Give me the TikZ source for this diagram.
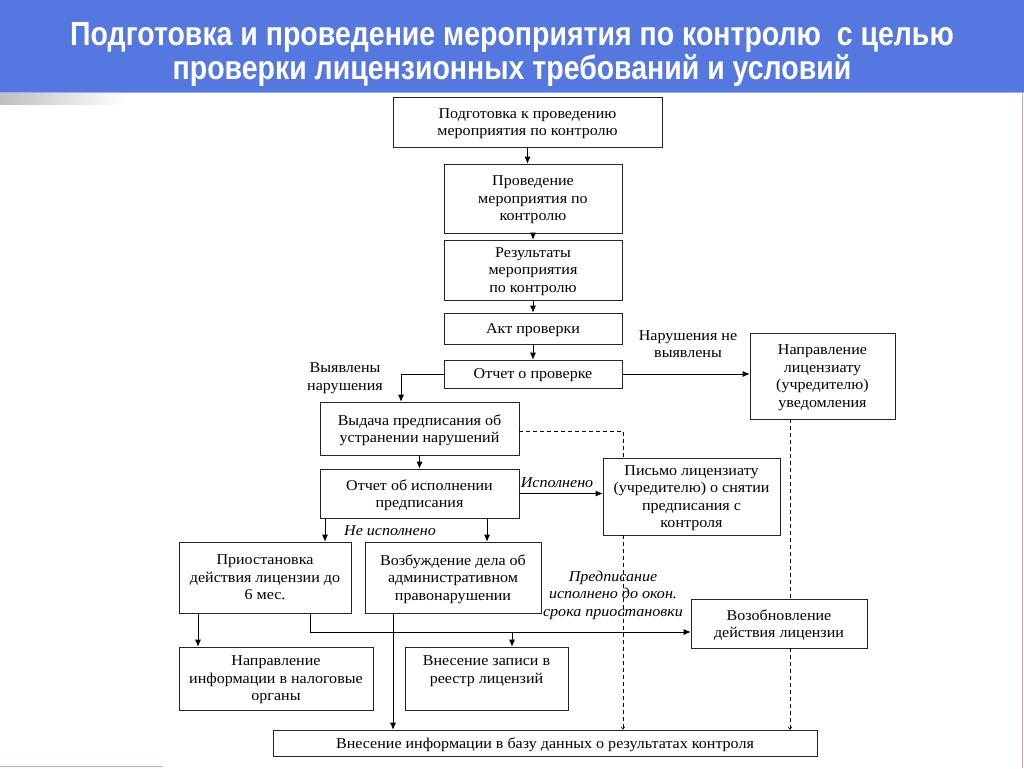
\documentclass[tikz,border=0pt]{standalone}
\usepackage{fontspec}
\setmainfont[FakeStretch=1.07]{Liberation Serif}
\newfontfamily\titlefont[FakeStretch=0.85]{Liberation Sans}
\usetikzlibrary{arrows.meta}
\definecolor{slideblue}{RGB}{84,120,224}
\definecolor{edgepink}{RGB}{214,170,178}
\begin{document}
\begin{tikzpicture}[x=1pt,y=-1pt,
  box/.style={draw=black!85,line width=0.7pt,inner sep=1pt,align=center,text depth=0pt,
    font=\fontsize{15}{17.5}\selectfont},
  lbl/.style={inner sep=0pt,align=center,font=\fontsize{15}{17.5}\selectfont},
  ilbl/.style={lbl,font=\fontsize{15}{17.5}\selectfont\itshape},
  arr/.style={-{Latex[length=7pt,width=6pt]},line width=0.7pt},
  darr/.style={-{To[length=3pt,width=4pt]},line width=0.6pt,dash pattern=on 4pt off 3pt}]
\useasboundingbox (0,0) rectangle (1024,768);
\fill[white] (0,0) rectangle (1024,768);
% slide header
\fill[slideblue] (0,0) rectangle (1024,92);
\draw[slideblue!60,line width=1pt] (0,92) -- (1024,92);
\shade[left color=black!25,right color=white] (0,93) rectangle (125,104);
\draw[edgepink,line width=0.8pt] (1022,93) -- (1022,768);
\draw[edgepink,line width=0.8pt] (0,766) -- (163,766);
\node[white,align=center,font=\titlefont\fontsize{33.5}{34}\selectfont\bfseries] (title) at (512,54)
  {Подготовка и проведение мероприятия по контролю\ \ с целью\\проверки лицензионных требований и условий};
% boxes
\node[box,minimum width=269,minimum height=50] (prep) at (527.5,122) {Подготовка к проведению\\мероприятия по контролю};
\node[box,minimum width=178,minimum height=69] (cond) at (533,198.5) {Проведение\\мероприятия по\\контролю};
\node[box,minimum width=178,minimum height=60] (res) at (533,270) {Результаты\\мероприятия\\по контролю};
\node[box,minimum width=178,minimum height=31] (act) at (533,328.5) {Акт проверки};
\node[box,minimum width=178,minimum height=28] (rep) at (533,374) {Отчет о проверке};
\node[box,minimum width=145,minimum height=86] (note) at (822.5,376) {Направление\\лицензиату\\(учредителю)\\уведомления};
\node[box,minimum width=199,minimum height=53] (order) at (419.5,428.5) {Выдача предписания об\\устранении нарушений};
\node[box,minimum width=199,minimum height=49] (done) at (419.5,493.5) {Отчет об исполнении\\предписания};
\node[box,minimum width=177,minimum height=77] (letter) at (691.5,496.5) {Письмо лицензиату\\(учредителю) о снятии\\предписания с\\контроля};
\node[box,minimum width=172,minimum height=71] (susp) at (265,577.5) {Приостановка\\действия лицензии до\\6 мес.};
\node[box,minimum width=176,minimum height=71] (case) at (453,577.5) {Возбуждение дела об\\административном\\правонарушении};
\node[box,minimum width=176,minimum height=49] (renew) at (779,623.5) {Возобновление\\действия лицензии};
\node[box,minimum width=194,minimum height=63] (tax) at (276,678.5) {Направление\\информации в налоговые\\органы};
\node[box,minimum width=163,minimum height=63] (reg) at (486.5,678.5) {Внесение записи в\\реестр лицензий\\\mbox{}};
\node[box,minimum width=544,minimum height=26] (db) at (545,743) {Внесение информации в базу данных о результатах контроля};
% labels
\node[lbl] (found) at (345,378) {Выявлены\\нарушения};
\node[lbl] (notfound) at (688,344) {Нарушения не\\выявлены};
\node[ilbl] (yes) at (557,483) {Исполнено};
\node[ilbl] (no) at (390,531) {Не исполнено};
\node[ilbl] (early) at (613,595) {Предписание\\исполнено до окон.\\срока приостановки};
% connectors
\coordinate (dl) at (623,431);
\coordinate (dr) at (790,419);
\coordinate (fork) at (512,632);
\draw[arr] (prep.south) -- (prep.south |- cond.north);
\draw[arr] (cond) -- (res);
\draw[arr] (res) -- (act);
\draw[arr] (act) -- (rep);
\draw[arr] (rep.west) -| ([xshift=-18.5pt]order.north);
\draw[arr] (rep.east) -- (note.west |- rep.east);
\draw[arr] (order) -- (done);
\draw[arr] (done.east) -- (letter.west |- done.east);
\draw[arr] ([xshift=-94.5pt]done.south) -- ([xshift=-94.5pt]done.south |- susp.north);
\draw[arr] ([xshift=67.5pt]done.south) -- ([xshift=67.5pt]done.south |- case.north);
\draw[arr] ([xshift=-67pt]susp.south) -- ([xshift=-67pt]susp.south |- tax.north);
\draw[arr] ([xshift=45pt]susp.south) |- ([yshift=-8.5pt]renew.west);
\draw[arr] (fork) -- (fork |- reg.north);
\draw[arr] ([xshift=-60pt]case.south) -- ([xshift=-60pt]case.south |- db.north);
\draw[line width=0.6pt,dash pattern=on 4pt off 3pt] (order.east |- dl) -- (dl) -- (dl |- letter.north);
\draw[darr] (dl |- letter.south) -- (dl |- db.north);
\draw[line width=0.6pt,dash pattern=on 4pt off 3pt] (dr) -- (dr |- renew.north);
\draw[darr] (dr |- renew.south) -- (dr |- db.north);
\end{tikzpicture}
\end{document}
